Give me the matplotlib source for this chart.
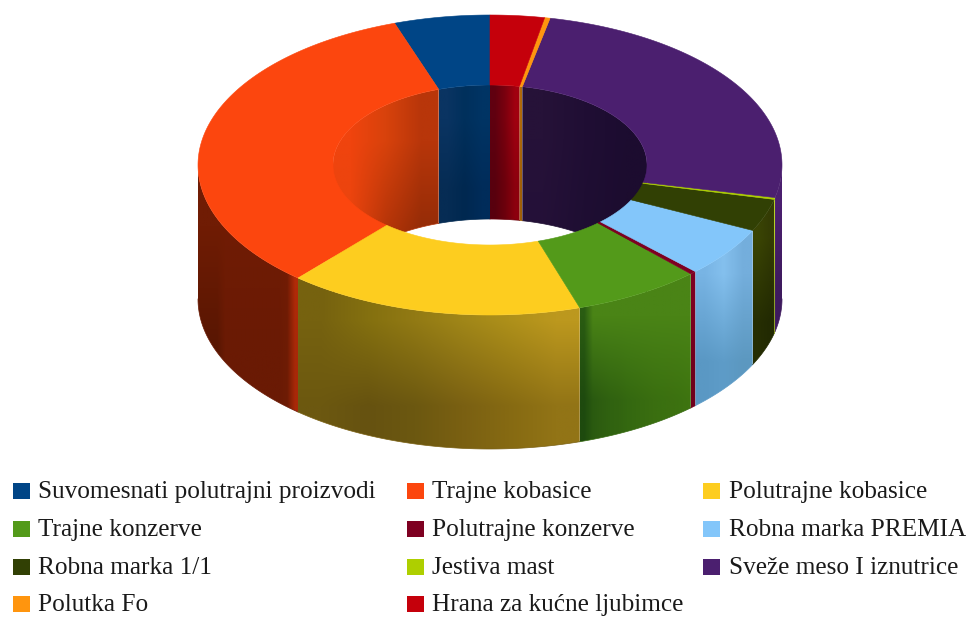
## 3D donut chart with legend underneath

from matplotlib import pyplot as plt
from matplotlib.colors import to_rgb
from matplotlib.patches import Polygon, Rectangle
import numpy as np

labels = ['Suvomesnati polutrajni proizvodi', 'Trajne kobasice', 'Polutrajne kobasice',
          'Trajne konzerve', 'Polutrajne konzerve', 'Robna marka PREMIA',
          'Robna marka 1/1', 'Jestiva mast', 'Sveže meso I iznutrice',
          'Polutka Fo', 'Hrana za kućne ljubimce']
values = [5.3, 33.3, 16.4, 7.1, 0.35, 5.4, 3.5, 0.2, 25.2, 0.3, 3.0]
colors = ['#004586', '#fc460e', '#fdcd1f', '#539a1a', '#7e0021', '#83c6fa',
          '#314004', '#aecf00', '#4b1f6f', '#ff950e', '#c5000b']

## outer wall colours, left to right: (upper row, lower row)
side_shade = [
    (['#004586'], ['#003060']),
    (['#701c04'] * 11 + ['#741c04', '#b82c08'], ['#581602'] * 3 + ['#6a1a04'] * 8 + ['#6e1c04', '#a82808']),
    (['#76620f', '#84700f', '#927a14', '#a08618', '#ae901a', '#bc981e'], ['#6c5810', '#665210', '#6c5810', '#7a6012', '#866a12', '#927416']),
    (['#2a5c12'] + ['#4a8416'] * 12, ['#1e4a0e', '#2a5a10', '#2e5e10', '#306210', '#326410', '#346810', '#366a10', '#386c10', '#3a6e10', '#3a7010', '#3c7010', '#3c7210', '#3e7410']),
    (['#7e0021'], ['#70001c']),
    (['#78b4e4', '#84c0ee', '#74aedc'], ['#5a98c4', '#5e9cc8', '#5c98c0']),
    (['#3a4404', '#343c04'], ['#262e02', '#222a02']),
    (['#aecf00'], ['#7c9400']),
    (['#4b1f6f'], ['#3e1a5e']),
    (['#ff950e'], ['#c07008']),
    (['#c5000b'], ['#900008']),
]
## hole wall colours, left to right: (upper row, lower row)
hole_shade = [
    (['#0a3462', '#00305c', '#003464'], ['#062c54', '#002850', '#002c5a']),
    (['#f0440e', '#d8420c', '#b8360a'], ['#e8440e', '#b03208', '#8e2a06']),
    (['#ffd320'], ['#ffd320']),
    (['#579d1c'], ['#579d1c']),
    (['#7e0021'], ['#7e0021']),
    (['#83caff'], ['#83caff']),
    (['#314004'], ['#314004']),
    (['#8a9c00'], ['#8a9c00']),
    (['#261238', '#200e34', '#1c0c30'], ['#241038', '#1e0e32', '#1c0c2e']),
    (['#b06a0a'], ['#a06008']),
    (['#600010', '#7a000e', '#a00010'], ['#58000e', '#6c000c', '#8c000e']),
]
legend_cols = [[0, 3, 6, 9], [1, 4, 7, 10], [2, 5, 8]]

CX, CY = 490, 165
RX_OUT, RY_OUT = 292, 150
RX_IN, RY_IN = 157, 80
DEPTH = 134


def arc(t0, t1, rx, ry, drop=0):
    t = np.radians(np.linspace(t0, t1, max(int(abs(t1 - t0) * 2), 2)))
    return np.column_stack((CX + rx * np.cos(t), CY + drop - ry * np.sin(t)))


def wall(t0, t1, rx, ry, shade, zorder):
    ## a curved wall, filled with a gradient clipped to its outline
    low = arc(t1, t0, rx, ry, DEPTH)
    pts = np.vstack((arc(t0, t1, rx, ry), low))
    poly = Polygon(pts, closed=True, transform=ax.transData, fc='none', ec='none')
    ax.add_patch(poly)
    img = np.array([[to_rgb(c) for c in row] for row in shade])
    if img.shape[1] == 1:
        img = np.repeat(img, 2, axis=1)
    x0, x1 = pts[:, 0].min(), pts[:, 0].max()
    y0, y1 = pts[:, 1].min(), pts[:, 1].max()
    im = ax.imshow(img, extent=(x0, max(x1, x0 + 1), y1, y0), interpolation='bilinear',
                   aspect='auto', zorder=zorder)
    im.set_clip_path(poly)
    ## thin line smooths the clipped lower edge
    ax.plot(low[:, 0], low[:, 1], color=shade[1][len(shade[1]) // 2], lw=0.5, zorder=zorder)


fig = plt.figure(figsize=(9.66, 6.17), dpi=100)
ax = fig.add_axes([0, 0, 1, 1])

total = sum(values)
start = 90.0
for i, v in enumerate(values):
    end = start + 360.0 * v / total

    ## far side of the hole is where the angle is in 0-180 (or 360-540 past the wrap)
    for off in (0, 360):
        h0, h1 = max(start - off, 0), min(end - off, 180)
        if h1 > h0:
            wall(h1, h0, RX_IN, RY_IN, hole_shade[i], 1)

    ## near side of the outer wall
    s0, s1 = max(start, 180), min(end, 360)
    if s1 > s0:
        wall(s0, s1, RX_OUT, RY_OUT, side_shade[i], 2)

    start = end

start = 90.0
for i, v in enumerate(values):
    end = start + 360.0 * v / total
    pts = np.vstack((arc(start, end, RX_OUT, RY_OUT), arc(end, start, RX_IN, RY_IN)))
    ax.add_patch(Polygon(pts, closed=True, fc=colors[i], ec=colors[i], lw=0.4, zorder=3))
    start = end

## legend
x_box = [13, 407, 703]
x_txt = [38, 432, 729]
y_row = [491, 529, 567, 604]
for c, col in enumerate(legend_cols):
    for r, i in enumerate(col):
        ax.add_patch(Rectangle((x_box[c], y_row[r] - 8), 17, 16, fc=colors[i], ec='none', zorder=4))
        ax.text(x_txt[c], y_row[r] + 1, labels[i], family='Liberation Serif', fontsize=18.2,
                color='#1a1a1a', va='center', ha='left', zorder=4)

ax.set_xlim(0, 966)
ax.set_ylim(617, 0)
ax.axis('off')
plt.savefig('out.png', dpi=100)
